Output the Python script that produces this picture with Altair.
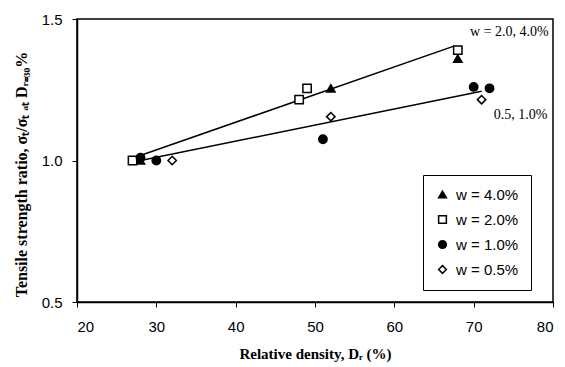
import altair as alt
import pandas as pd

# Data
series_labels = ["w = 4.0%", "w = 2.0%", "w = 1.0%", "w = 0.5%"]
dr_40 = [28, 52, 68]
r_40 = [1.00, 1.255, 1.36]
dr_20 = [27, 48, 49, 68]
r_20 = [1.00, 1.215, 1.255, 1.39]
dr_10 = [28, 30, 51, 70, 72]
r_10 = [1.01, 1.00, 1.075, 1.26, 1.255]
dr_05 = [32, 52, 71]
r_05 = [1.00, 1.155, 1.215]

# Trend lines (endpoints)
upper_dr = [27.7, 67.6]
upper_r = [1.015, 1.405]
lower_dr = [28, 71]
lower_r = [1.00, 1.245]

# Annotations
ann_text = ["w = 2.0,  4.0%", "0.5,  1.0%"]
ann_dr = [74.5, 75.9]
ann_r = [1.455, 1.162]

x_ticks = [20, 30, 40, 50, 60, 70, 80]
y_ticks = [0.5, 1.0, 1.5]

rows = []
for lab, xs, ys in zip(series_labels, [dr_40, dr_20, dr_10, dr_05], [r_40, r_20, r_10, r_05]):
    for a, b in zip(xs, ys):
        rows.append({"Dr": a, "R": b, "series": lab})
pts = pd.DataFrame(rows)

lines = pd.DataFrame(
    [{"Dr": a, "R": b, "line": "upper"} for a, b in zip(upper_dr, upper_r)]
    + [{"Dr": a, "R": b, "line": "lower"} for a, b in zip(lower_dr, lower_r)]
)
ann = pd.DataFrame({"Dr": ann_dr, "R": ann_r, "t": ann_text})

xscale = alt.Scale(domain=[20, 80], nice=False)
yscale = alt.Scale(domain=[0.5, 1.5], nice=False)

xenc = alt.X(
    "Dr:Q",
    scale=xscale,
    axis=alt.Axis(
        values=x_ticks,
        title="Relative density, Dᵣ (%)",
        format="d",
    ),
)
yenc = alt.Y(
    "R:Q",
    scale=yscale,
    axis=alt.Axis(
        values=y_ticks,
        format=".1f",
        title="Tensile strength ratio, σₜ/σₜ ₐₜ Dᵣ₌₃₀%",
        titleY=155,
        titleAlign="center",
        titleBaseline="middle",
        titleAngle=270,
        titleX=-56,
    ),
)

line_layer = alt.Chart(lines).mark_line(color="black", strokeWidth=1.5).encode(
    x=xenc, y=yenc, detail="line:N"
)

point_layer = alt.Chart(pts).mark_point(filled=True, size=70, strokeWidth=1.5, opacity=1).encode(
    x=xenc,
    y=yenc,
    shape=alt.Shape(
        "series:N",
        scale=alt.Scale(domain=series_labels, range=["triangle-up", "square", "circle", "diamond"]),
        legend=alt.Legend(title=None),
    ),
    fill=alt.Fill(
        "series:N",
        scale=alt.Scale(domain=series_labels, range=["black", "white", "black", "white"]),
        legend=alt.Legend(title=None),
    ),
    stroke=alt.Stroke(
        "series:N",
        scale=alt.Scale(domain=series_labels, range=["black", "black", "black", "black"]),
        legend=alt.Legend(title=None),
    ),
)

text_layer = alt.Chart(ann).mark_text(
    font="Liberation Serif", fontSize=14, color="black", align="center", baseline="middle"
).encode(x=alt.X("Dr:Q", scale=xscale), y=alt.Y("R:Q", scale=yscale), text="t:N")

chart = (
    alt.layer(line_layer, point_layer, text_layer)
    .properties(
        width=476,
        height=283,
        autosize=alt.AutoSizeParams(type="none"),
        padding={"left": 69, "top": 11, "right": 4, "bottom": 64},
    )
    .configure_view(stroke="black", strokeWidth=1.5)
    .configure_axis(
        grid=False,
        domainColor="black",
        domainWidth=1.5,
        tickColor="black",
        tickSize=5,
        labelFont="Liberation Sans",
        labelFontSize=15,
        labelColor="black",
        titleFont="Liberation Serif",
        titleFontSize=15,
        titleFontWeight="bold",
        titleColor="black",
    )
    .configure_axisX(labelPadding=12, titlePadding=12)
    .configure_axisY(labelPadding=10, titlePadding=10, titleFontSize=16)
    .configure_legend(
        orient="none",
        legendX=346,
        legendY=156,
        strokeColor="black",
        fillColor="white",
        padding=12,
        rowPadding=9,
        labelFont="Liberation Sans",
        labelFontSize=15,
        labelColor="black",
        labelOffset=6,
        symbolSize=60,
        symbolStrokeWidth=1.5,
    )
)

chart.save("out.html", embed_options={"renderer": "svg", "actions": False})
